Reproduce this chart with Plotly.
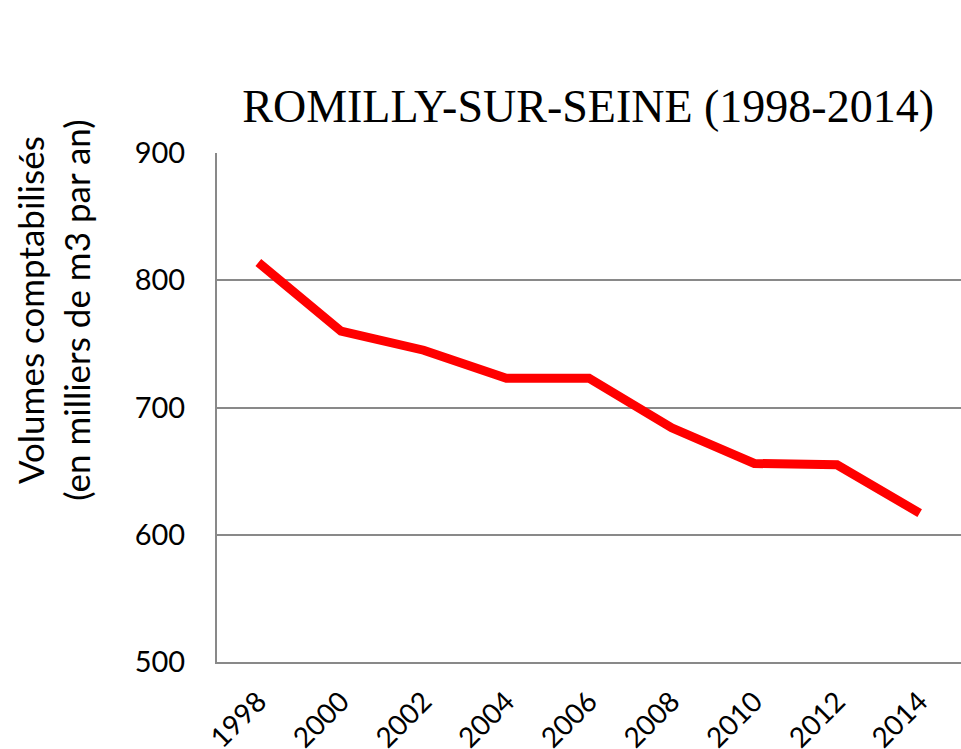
import plotly.graph_objects as go

years = ["1998", "2000", "2002", "2004", "2006", "2008", "2010", "2012", "2014"]
volumes = [814, 760, 745, 723, 723, 684, 656, 655, 617]
y_ticks = [500, 600, 700, 800, 900]

title_text = "ROMILLY-SUR-SEINE (1998-2014)"
y_title = "Volumes comptabilisés<br>(en milliers de m3 par an)"

fig = go.Figure()
fig.add_trace(go.Scatter(
    x=years, y=volumes, mode="lines",
    line=dict(color="#FF0000", width=9),
    hoverinfo="x+y",
))

fig.update_layout(
    width=961, height=749,
    paper_bgcolor="white", plot_bgcolor="white",
    margin=dict(l=217, r=0, t=153, b=87, autoexpand=False),
    showlegend=False,
    font=dict(family="Lato, Carlito, sans-serif", color="black"),
    title=dict(text=title_text, x=0.612, xanchor="center", y=0.8585, yanchor="middle",
               font=dict(family="Liberation Serif, serif", size=46, color="black")),
    xaxis=dict(type="category", range=[-0.5, len(years) - 0.5], showgrid=False,
               showline=True, linecolor="#898989", linewidth=2, tickangle=-45,
               tickfont=dict(size=28), ticks="", ticklabelstandoff=10,
               automargin=False),
    yaxis=dict(range=[500, 900], tickvals=y_ticks, showgrid=True, gridcolor="#898989",
               gridwidth=1.5, showline=True, linecolor="#898989", linewidth=2,
               zeroline=False, tickfont=dict(size=29), ticks="", ticklabelstandoff=24,
               automargin=False),
    annotations=[dict(text=y_title, textangle=-90, xref="paper", yref="paper",
                      x=0, y=0.69, xanchor="center", yanchor="middle", xshift=-164,
                      showarrow=False, font=dict(size=35, color="black"))],
)

fig.write_html(
    "out.html",
    config={"displayModeBar": False},
    post_script="document.body.style.margin='0';document.body.style.overflow='hidden';",
)
